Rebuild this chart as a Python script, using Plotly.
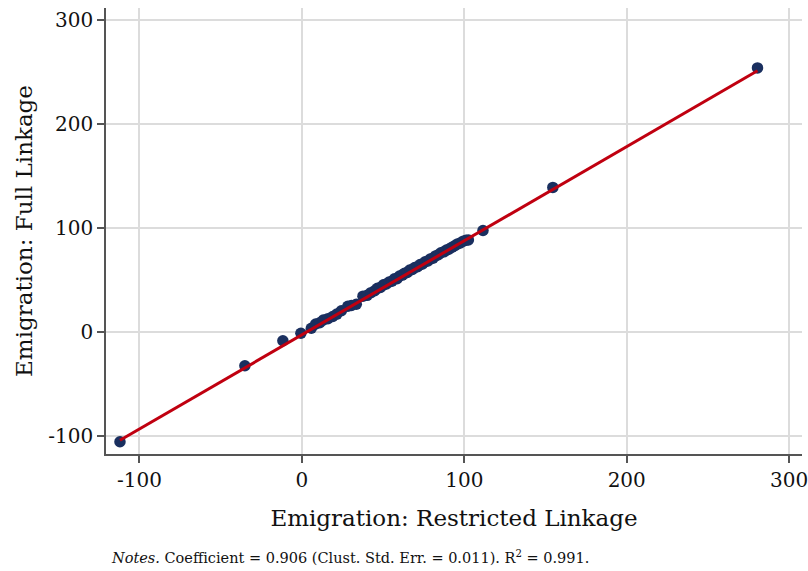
import plotly.graph_objects as go

# Emigration estimates under the two linkage definitions
restricted = [
    -112.0, -35.1, -11.7, -0.6,
    5.8, 8.5, 11.0, 13.2, 16.0, 19.0, 21.5, 24.3, 28.3, 30.5, 33.5,
    37.6, 40.2, 42.5, 44.8, 46.5, 48.3, 50.2, 52.0, 53.7, 55.4,
    57.0, 58.6, 60.1, 61.8, 63.2, 64.9, 66.4, 68.0, 69.5, 71.2,
    72.8, 74.3, 75.9, 77.6, 79.0, 80.7, 82.3, 84.0, 85.6, 87.4,
    89.0, 90.7, 92.4, 94.1, 95.8, 97.5, 99.3, 101.0, 102.5,
    111.5, 154.5, 280.5,
]
full = [
    -105.9, -32.8, -8.7, -1.5,
    3.3, 7.4, 8.6, 11.3, 12.6, 14.6, 17.0, 20.2, 24.5, 25.2, 26.4,
    34.2, 35.0, 37.6, 39.4, 41.8, 42.6, 45.1, 46.0, 47.9, 48.6,
    50.9, 51.1, 53.6, 54.5, 56.2, 57.1, 59.3, 60.0, 61.8, 62.5,
    64.6, 65.2, 67.4, 68.1, 70.0, 70.8, 73.0, 74.1, 76.0, 76.9,
    78.6, 79.6, 81.3, 82.7, 84.5, 85.4, 87.2, 88.0, 88.4,
    97.4, 138.9, 253.9,
]

# Linear fit
FIT_SLOPE = 0.906
FIT_INTERCEPT = -3.0
fit_x = [min(restricted), max(restricted)]
fit_y = [FIT_INTERCEPT + FIT_SLOPE * v for v in fit_x]

x_ticks = [-100, 0, 100, 200, 300]
x_labels = ["-100", "0", "100", "200", "300"]
y_ticks = [-100, 0, 100, 200, 300]
y_labels = ["-100", "0", "100", "200", "300"]

FONT = "DejaVu Serif"

fig = go.Figure()
fig.add_trace(go.Scatter(
    x=restricted, y=full, mode="markers",
    marker=dict(color="#1a2f5f", size=11.5, line=dict(width=0)),
    showlegend=False, hoverinfo="x+y",
))
fig.add_trace(go.Scatter(
    x=fit_x, y=fit_y, mode="lines",
    line=dict(color="#c00010", width=3),
    showlegend=False, hoverinfo="skip",
))

axis_common = dict(
    showgrid=True, gridcolor="#dcdcdc", gridwidth=1.5,
    zeroline=False,
    showline=True, linecolor="#555555", linewidth=1.5,
    ticks="outside", ticklen=7, tickwidth=1.5, tickcolor="#555555",
    tickfont=dict(family=FONT, size=20, color="#111111"),
    tickmode="array",
    ticklabeloverflow="allow",
    automargin=False,
)

fig.update_layout(
    width=808, height=571,
    margin=dict(l=106, r=6, t=8, b=117),
    paper_bgcolor="white", plot_bgcolor="white",
    font=dict(family=FONT, color="#111111"),
    xaxis=dict(
        axis_common, tickvals=x_ticks, ticktext=x_labels, range=[-120.6, 307.9],
        title=dict(text="Emigration: Restricted Linkage",
                   font=dict(family=FONT, size=23), standoff=19),
    ),
    yaxis=dict(
        axis_common, tickvals=y_ticks, ticktext=y_labels, range=[-117.7, 311.6],
        title=dict(text="Emigration: Full Linkage",
                   font=dict(family=FONT, size=23), standoff=9),
    ),
    annotations=[dict(
        text="<i>Notes.</i> Coefficient = 0.906 (Clust. Std. Err. = 0.011). R<sup>2</sup> = 0.991.",
        xref="paper", yref="paper", x=0.004, y=-0.232,
        xanchor="left", yanchor="middle", showarrow=False,
        font=dict(family=FONT, size=14.5, color="#111111"),
    )],
)

fig.write_html("out.html")
